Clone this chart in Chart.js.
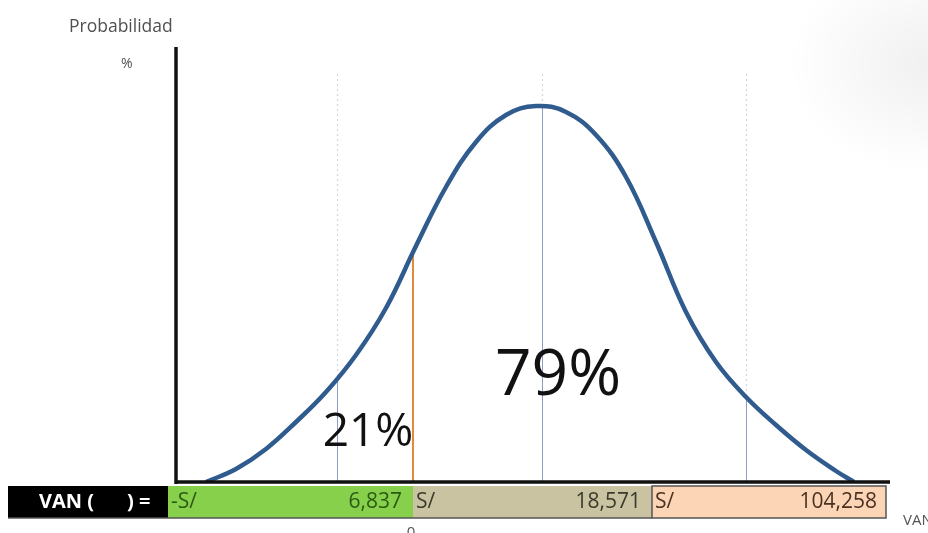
<!DOCTYPE html>
<html>
<head>
<meta charset="utf-8">
<script src="https://cdn.jsdelivr.net/npm/chart.js@4.4.1/dist/chart.umd.min.js"></script>
<style>
    html, body { margin: 0; padding: 0; background: #fff; }
    #wrap {
        width: 928px; height: 533px; position: relative; overflow: hidden;
        background: radial-gradient(ellipse 140px 110px at 100% 12%, rgba(0,0,0,0.06), rgba(0,0,0,0) 100%);
    }
</style>
</head>
<body>
<div id="wrap"><canvas id="chart" width="928" height="533"></canvas></div>
<script>
// 曲線資料 (x: 水平位置, y: 機率高度)
const curveX = [30, 60, 90, 120, 150, 180, 210, 240, 270, 300, 330, 360, 390, 420, 450, 480, 510, 540, 570, 600, 630, 660, 678];
const curveY = [0, 13, 33, 60, 90, 127, 174, 236, 295, 340, 367, 376, 370, 347, 305, 240, 170, 120, 85, 57, 32, 11, 0];

// 切點 (VAN = 0)
const cutX = 237;
const cutY = 231;

// 輔助線
const guideX = [161, 366, 570];
const guideTop = [103, 376, 85];

// 百分比標示
const shareLabels = ['21%', '79%'];

// 下方 VAN 區段
const bandPrefix = ['-S/', 'S/', 'S/'];
const bandValues = ['6,837', '18,571', '104,258'];

const font = '"Open Sans", "Noto Sans", sans-serif';

const points = curveX.map((x, i) => ({ x: x, y: curveY[i] }));

const decorPlugin = {
    id: 'decor',
    beforeDatasetsDraw(chart) {
        let ctx = chart.ctx;
        let xs = chart.scales.x;
        let ys = chart.scales.y;
        let area = chart.chartArea;
        ctx.save();
        guideX.forEach((gx, i) => {
            let px = Math.round(xs.getPixelForValue(gx)) + 0.5;
            let top = ys.getPixelForValue(guideTop[i]);
            ctx.lineWidth = 1.2;
            ctx.strokeStyle = '#cfd6e4';
            ctx.setLineDash([2, 3]);
            ctx.beginPath();
            ctx.moveTo(px, area.top + 27);
            ctx.lineTo(px, top);
            ctx.stroke();
            ctx.setLineDash([]);
            ctx.strokeStyle = '#8e9cc0';
            ctx.lineWidth = 1;
            ctx.beginPath();
            ctx.moveTo(px, top);
            ctx.lineTo(px, area.bottom);
            ctx.stroke();
        });
        ctx.restore();
    },
    afterDraw(chart) {
        let ctx = chart.ctx;
        let xs = chart.scales.x;
        let area = chart.chartArea;
        ctx.save();

        // 座標軸
        ctx.strokeStyle = '#111';
        ctx.lineWidth = 3.5;
        ctx.beginPath();
        ctx.moveTo(area.left, area.top);
        ctx.lineTo(area.left, area.bottom + 2);
        ctx.moveTo(area.left, area.bottom);
        ctx.lineTo(area.right, area.bottom);
        ctx.stroke();

        // 軸標題
        ctx.fillStyle = '#505050';
        ctx.font = '17.5px ' + font;
        ctx.textBaseline = 'middle';
        ctx.textAlign = 'left';
        ctx.fillText('Probabilidad', 69, 27);
        ctx.font = '14px ' + font;
        ctx.fillText('%', 121, 64);

        // 百分比
        ctx.fillStyle = '#111';
        ctx.textBaseline = 'alphabetic';
        ctx.textAlign = 'center';
        ctx.font = '46px ' + font;
        ctx.fillText(shareLabels[0], 368, 446);
        ctx.font = '64px ' + font;
        ctx.fillText(shareLabels[1], 558, 395);

        // 下方區段
        let cut = xs.getPixelForValue(cutX);
        let top = 486, h = 32;
        let segs = [
            { x0: 168, x1: cut, fill: '#86d04c', text: '#2d5a12', pad: 11 },
            { x0: cut, x1: 652, fill: '#c9c3a2', text: '#3b3a2c', pad: 11 },
            { x0: 652, x1: 886, fill: '#fcd5b7', text: '#4a3222', pad: 9 }
        ];
        ctx.fillStyle = '#000';
        ctx.fillRect(8, top, 160, h);
        ctx.fillStyle = '#fff';
        ctx.font = 'bold 20px ' + font;
        ctx.textBaseline = 'middle';
        ctx.textAlign = 'left';
        ctx.fillText('VAN (', 39, top + h / 2);
        ctx.fillText(') =', 127, top + h / 2);
        segs.forEach((s, i) => {
            ctx.fillStyle = s.fill;
            ctx.fillRect(s.x0, top, s.x1 - s.x0, h);
            ctx.fillStyle = s.text;
            ctx.font = '21px ' + font;
            ctx.textAlign = 'left';
            ctx.fillText(bandPrefix[i], s.x0 + 3, top + h / 2);
            ctx.textAlign = 'right';
            ctx.fillText(bandValues[i], s.x1 - s.pad, top + h / 2);
        });
        ctx.strokeStyle = '#555';
        ctx.lineWidth = 1.5;
        ctx.strokeRect(652, top, 234, h);
        ctx.beginPath();
        ctx.moveTo(8, top + h);
        ctx.lineTo(652, top + h);
        ctx.stroke();

        // 其他標示
        ctx.fillStyle = '#555';
        ctx.font = '15px ' + font;
        ctx.textAlign = 'center';
        ctx.textBaseline = 'top';
        ctx.fillText('0', cut - 2, 525);
        ctx.textAlign = 'left';
        ctx.fillText('VAN', 903, 513);
        ctx.restore();
    }
};

let el = document.querySelector('#chart');
new Chart(el, {
    type: 'line',
    data: {
        datasets: [
            {
                data: points,
                borderColor: '#305b8e',
                borderWidth: 4.5,
                pointRadius: 0,
                tension: 0.4,
                order: 0
            },
            {
                data: [{ x: cutX, y: 0 }, { x: cutX, y: cutY }],
                borderColor: '#e58a3c',
                borderWidth: 2,
                pointRadius: 0,
                order: 1
            }
        ]
    },
    options: {
        responsive: false,
        animation: false,
        layout: { padding: { left: 176, right: 38, top: 47, bottom: 51 } },
        plugins: { legend: { display: false }, tooltip: { enabled: false } },
        scales: {
            x: { type: 'linear', min: 0, max: 714, display: false },
            y: { type: 'linear', min: 0, max: 435, display: false }
        }
    },
    plugins: [decorPlugin]
});
</script>
</body>
</html>
